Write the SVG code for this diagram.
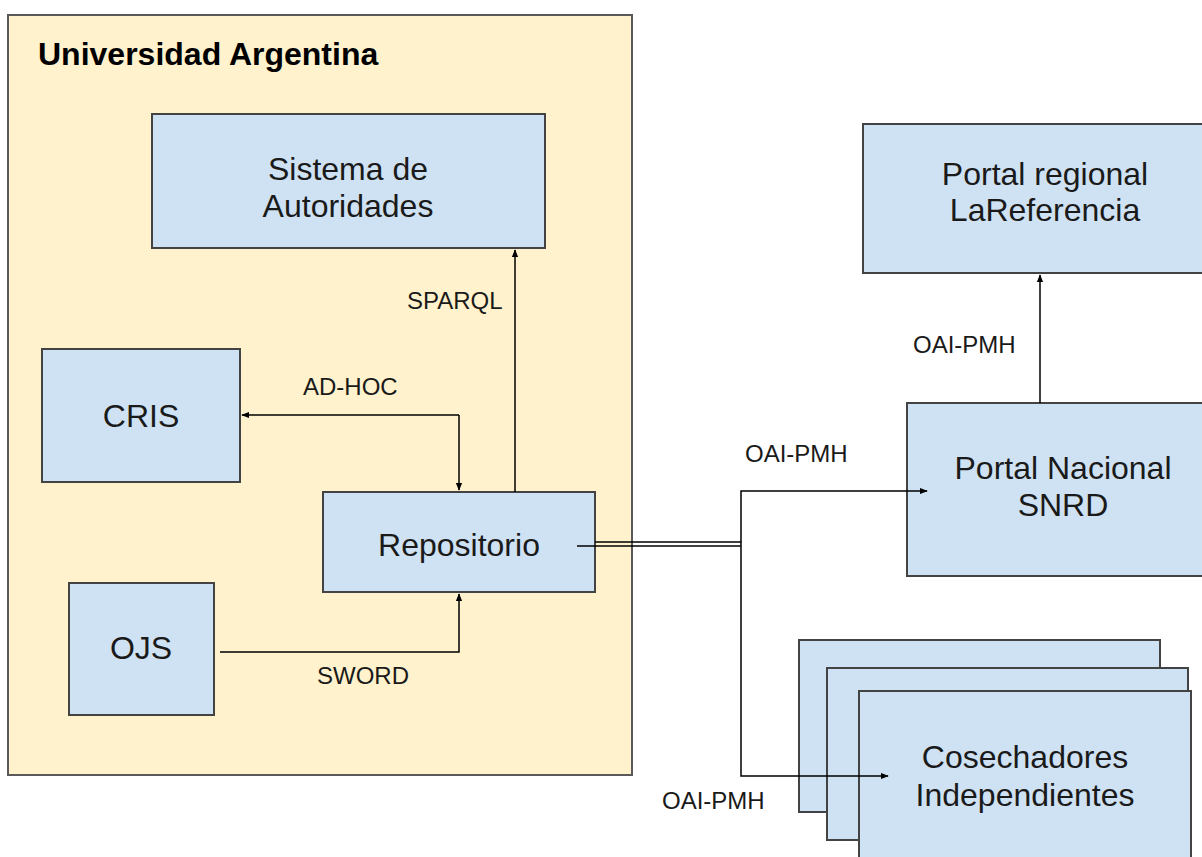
<svg xmlns="http://www.w3.org/2000/svg" width="1202" height="857" viewBox="0 0 1202 857">
<style>
.node{fill:#cfe2f3;stroke:#434343;stroke-width:2}
.t{font-family:"Liberation Sans",Arial,sans-serif;font-size:32px;fill:#1a1a1a;text-anchor:middle}
.lbl{font-family:"Liberation Sans",Arial,sans-serif;font-size:24px;fill:#1a1a1a}
.c{fill:none;stroke:#000;stroke-width:1.5}
</style>
<defs>
<marker id="ah" viewBox="0 0 10 10" refX="9" refY="5" markerWidth="8" markerHeight="8" markerUnits="userSpaceOnUse" orient="auto">
<path d="M0,1 L10,5 L0,9 z" fill="#000"/>
</marker>
</defs>
<rect width="1202" height="857" fill="#fff"/>
<g id="universidad">
<rect x="8" y="15" width="624" height="760" fill="#fff2cc" stroke="#595959" stroke-width="2"/>
<text x="38" y="65" font-family="'Liberation Sans',Arial,sans-serif" font-size="32" font-weight="bold" fill="#000">Universidad Argentina</text>
</g>
<g id="sistema">
<rect class="node" x="152" y="114" width="393" height="134"/>
<text class="t" x="348" y="180">Sistema de</text>
<text class="t" x="348" y="217">Autoridades</text>
</g>
<g id="cris">
<rect class="node" x="42" y="349" width="198" height="133"/>
<text class="t" x="141" y="427">CRIS</text>
</g>
<g id="repositorio">
<rect class="node" x="323" y="492" width="272" height="100"/>
<text class="t" x="459" y="556">Repositorio</text>
</g>
<g id="ojs">
<rect class="node" x="69" y="583" width="145" height="132"/>
<text class="t" x="141" y="659">OJS</text>
</g>
<g id="regional">
<rect class="node" x="863" y="124" width="364" height="149"/>
<text class="t" x="1045" y="185">Portal regional</text>
<text class="t" x="1045" y="221">LaReferencia</text>
</g>
<g id="nacional">
<rect class="node" x="907" y="403" width="312" height="173"/>
<text class="t" x="1063" y="479">Portal Nacional</text>
<text class="t" x="1063" y="516">SNRD</text>
</g>
<g id="cosechadores">
<rect class="node" x="799" y="640" width="361" height="172"/>
<rect class="node" x="827" y="668" width="361" height="172"/>
<rect class="node" x="859" y="691" width="332" height="180"/>
<text class="t" x="1025" y="768">Cosechadores</text>
<text class="t" x="1025" y="806">Independientes</text>
</g>
<g id="connectors">
<path class="c" d="M515,492 V250" marker-end="url(#ah)"/>
<path class="c" d="M459,415 H242" marker-end="url(#ah)"/>
<path class="c" d="M459,415 V490" marker-end="url(#ah)"/>
<path class="c" d="M220,652 H459 V594" marker-end="url(#ah)"/>
<path class="c" d="M1040,403 V275" marker-end="url(#ah)"/>
<path class="c" d="M577,546 H741"/>
<path class="c" d="M595,542 H741 V546"/>
<path class="c" d="M741,542 V491 H927" marker-end="url(#ah)"/>
<path class="c" d="M741,546 V776 H888" marker-end="url(#ah)"/>
<text class="lbl" x="407" y="309">SPARQL</text>
<text class="lbl" x="303" y="395">AD-HOC</text>
<text class="lbl" x="317" y="684">SWORD</text>
<text class="lbl" x="745" y="462">OAI-PMH</text>
<text class="lbl" x="662" y="809">OAI-PMH</text>
<text class="lbl" x="913" y="353">OAI-PMH</text>
</g>
</svg>
